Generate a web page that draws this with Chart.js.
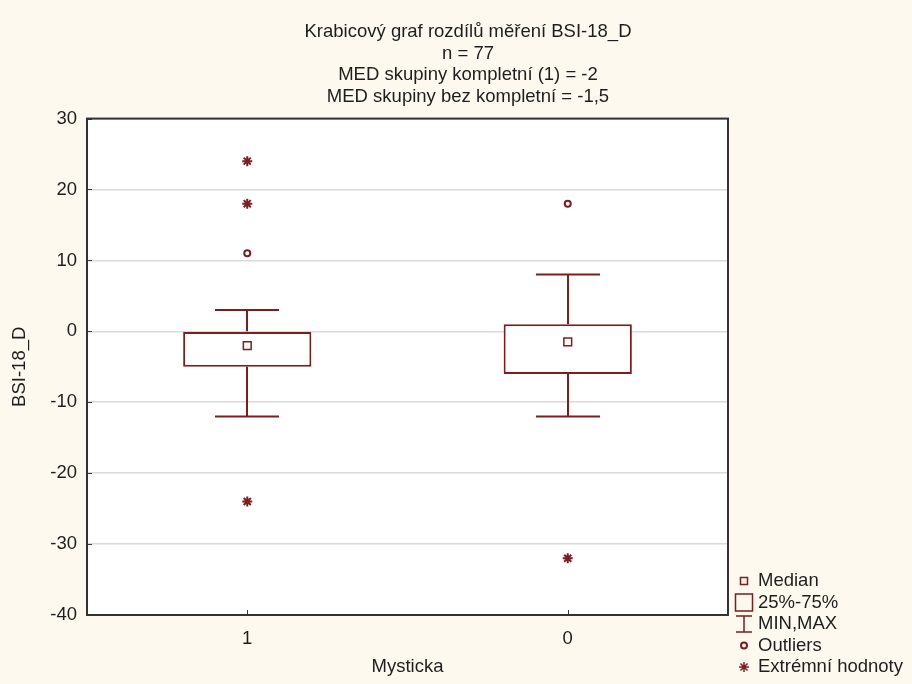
<!DOCTYPE html>
<html>
<head>
<meta charset="utf-8">
<script src="https://cdn.jsdelivr.net/npm/chart.js@4.4.1/dist/chart.umd.min.js"></script>
<style>
    html, body { margin: 0; padding: 0; background: #fdf9ef; }
    #wrap { width: 912px; height: 684px; }
</style>
</head>
<body>
<div id="wrap"><canvas id="boxChart" width="912" height="684"></canvas></div>
<script>
    // data
    var categories = ['1', '0'];
    var q1Values = [-5, -6];
    var q3Values = [0, 1];
    var medianValues = [-2, -1.5];
    var minValues = [-12, -12];
    var maxValues = [3, 8];
    var outlierValues = [[11], [18]];
    var extremeValues = [[24, 18, -24], [-32]];

    var titleLines = [
        'Krabicový graf rozdílů měření BSI-18_D',
        'n = 77',
        'MED skupiny kompletní (1) = -2',
        'MED skupiny bez kompletní = -1,5'
    ];
    var legendLabels = ['Median', '25%-75%', 'MIN,MAX', 'Outliers', 'Extrémní hodnoty'];

    var boxColor = '#7d1e1e';
    var textColor = '#1e1e1e';
    var fontFamily = '"Liberation Sans", Arial, sans-serif';
    var fontSize = 18.5;

    function toPoints(groups) {
        var pts = [];
        groups.forEach(function(vals, i) {
            vals.forEach(function(v) {
                pts.push({ x: categories[i], y: v });
            });
        });
        return pts;
    }

    // plot background + frame + inner tick marks
    var framePlugin = {
        id: 'frame',
        beforeDraw: function(chart) {
            var a = chart.chartArea, ctx = chart.ctx;
            ctx.save();
            ctx.fillStyle = '#ffffff';
            ctx.fillRect(a.left, a.top, a.right - a.left, a.bottom - a.top);
            ctx.restore();
        },
        afterDraw: function(chart) {
            var a = chart.chartArea, ctx = chart.ctx;
            var ys = chart.scales.y, xs = chart.scales.x;
            ctx.save();
            ctx.strokeStyle = '#3a3a3a';
            ctx.lineWidth = 1;
            ys.ticks.forEach(function(t) {
                var py = Math.round(ys.getPixelForValue(t.value)) + 0.5;
                ctx.beginPath();
                ctx.moveTo(a.left, py);
                ctx.lineTo(a.left + 5, py);
                ctx.stroke();
            });
            categories.forEach(function(c, i) {
                var px = Math.round(xs.getPixelForValue(i)) + 0.5;
                ctx.beginPath();
                ctx.moveTo(px, a.bottom);
                ctx.lineTo(px, a.bottom - 5);
                ctx.stroke();
            });
            ctx.strokeStyle = '#333333';
            ctx.lineWidth = 2;
            ctx.strokeRect(a.left, a.top, a.right - a.left, a.bottom - a.top);
            ctx.restore();
        }
    };

    // whiskers from box edge to min / max with caps
    var whiskerPlugin = {
        id: 'whiskers',
        beforeDatasetsDraw: function(chart) {
            var ctx = chart.ctx, xs = chart.scales.x, ys = chart.scales.y;
            var capHalf = 32;
            ctx.save();
            ctx.strokeStyle = boxColor;
            ctx.lineWidth = 2;
            categories.forEach(function(c, i) {
                var px = Math.round(xs.getPixelForValue(i));
                var yMax = ys.getPixelForValue(maxValues[i]);
                var yMin = ys.getPixelForValue(minValues[i]);
                ctx.beginPath();
                ctx.moveTo(px, ys.getPixelForValue(q3Values[i]));
                ctx.lineTo(px, yMax);
                ctx.moveTo(px, ys.getPixelForValue(q1Values[i]));
                ctx.lineTo(px, yMin);
                ctx.moveTo(px - capHalf, yMax);
                ctx.lineTo(px + capHalf, yMax);
                ctx.moveTo(px - capHalf, yMin);
                ctx.lineTo(px + capHalf, yMin);
                ctx.stroke();
            });
            ctx.restore();
        }
    };

    // legend in the bottom right corner, outside the plot
    var legendPlugin = {
        id: 'sideLegend',
        afterDraw: function(chart) {
            var ctx = chart.ctx;
            var cx = chart.chartArea.right + 16;
            var textX = chart.chartArea.right + 30;
            var y0 = chart.height - 103;
            var step = 21.5;
            ctx.save();
            ctx.strokeStyle = boxColor;
            legendLabels.forEach(function(label, i) {
                var y = y0 + i * step;
                ctx.lineWidth = 1.5;
                ctx.beginPath();
                if (i === 0) {
                    ctx.rect(cx - 3.5, y - 3.5, 7, 7);
                    ctx.stroke();
                } else if (i === 1) {
                    ctx.rect(cx - 8.5, y - 8.5, 17, 17);
                    ctx.stroke();
                } else if (i === 2) {
                    ctx.moveTo(cx - 8, y - 8); ctx.lineTo(cx + 8, y - 8);
                    ctx.moveTo(cx, y - 8); ctx.lineTo(cx, y + 8);
                    ctx.moveTo(cx - 8, y + 8); ctx.lineTo(cx + 8, y + 8);
                    ctx.stroke();
                } else if (i === 3) {
                    ctx.lineWidth = 2;
                    ctx.arc(cx, y, 3, 0, Math.PI * 2);
                    ctx.stroke();
                } else {
                    Chart.helpers.drawPoint(ctx, { pointStyle: 'star', radius: 5, borderWidth: 2 }, cx, y);
                }
                ctx.fillStyle = textColor;
                ctx.font = fontSize + 'px ' + fontFamily;
                ctx.textBaseline = 'middle';
                ctx.textAlign = 'left';
                ctx.fillText(label, textX, y);
            });
            ctx.restore();
        }
    };

    new Chart(document.getElementById('boxChart'), {
        type: 'bar',
        data: {
            labels: categories,
            datasets: [
                {
                    label: 'Median',
                    type: 'line',
                    data: medianValues,
                    showLine: false,
                    pointStyle: 'rect',
                    pointRadius: 5.5,
                    pointBorderWidth: 1.5,
                    pointBorderColor: boxColor,
                    pointBackgroundColor: '#ffffff',
                    order: 1
                },
                {
                    label: 'Outliers',
                    type: 'line',
                    data: toPoints(outlierValues),
                    showLine: false,
                    pointStyle: 'circle',
                    pointRadius: 3,
                    pointBorderWidth: 2,
                    pointBorderColor: boxColor,
                    pointBackgroundColor: '#ffffff',
                    order: 1
                },
                {
                    label: 'Extrémní hodnoty',
                    type: 'line',
                    data: toPoints(extremeValues),
                    showLine: false,
                    pointStyle: 'star',
                    pointRadius: 5,
                    pointBorderWidth: 2,
                    pointBorderColor: boxColor,
                    order: 1
                },
                {
                    label: '25%-75%',
                    data: q1Values.map(function(v, i) { return [v, q3Values[i]]; }),
                    backgroundColor: '#ffffff',
                    borderColor: boxColor,
                    borderWidth: 2,
                    borderSkipped: false,
                    barPercentage: 0.4,
                    categoryPercentage: 1,
                    order: 2
                }
            ]
        },
        options: {
            responsive: false,
            animation: false,
            events: [],
            layout: {
                padding: { left: 24, right: 0, top: 0, bottom: 0 }
            },
            plugins: {
                legend: { display: false },
                tooltip: { enabled: false },
                title: {
                    display: true,
                    text: titleLines,
                    color: textColor,
                    font: { family: fontFamily, size: fontSize, weight: 'normal', lineHeight: 1.17 },
                    padding: { top: 21, bottom: 11 }
                }
            },
            scales: {
                x: {
                    grid: { display: false, drawTicks: false },
                    border: { display: false },
                    ticks: {
                        color: textColor,
                        padding: 13,
                        font: { family: fontFamily, size: fontSize }
                    },
                    title: {
                        display: true,
                        text: 'Mysticka',
                        color: textColor,
                        font: { family: fontFamily, size: fontSize },
                        padding: { top: 4, bottom: 6 }
                    },
                    afterFit: function(scale) { scale.height = 69; }
                },
                y: {
                    min: -40,
                    max: 30,
                    grid: {
                        color: '#dadada',
                        lineWidth: 1.5,
                        drawTicks: true,
                        tickLength: 7,
                        tickColor: 'rgba(0,0,0,0)'
                    },
                    border: { display: false },
                    ticks: {
                        stepSize: 10,
                        color: textColor,
                        padding: 3,
                        font: { family: fontFamily, size: fontSize }
                    },
                    title: {
                        display: true,
                        text: 'BSI-18_D',
                        color: textColor,
                        font: { family: fontFamily, size: fontSize },
                        padding: { top: -15, bottom: 0 }
                    },
                    afterFit: function(scale) { scale.width = 63; }
                },
                // empty right-hand axis that keeps room for the legend
                yLegend: {
                    position: 'right',
                    min: -40,
                    max: 30,
                    grid: { display: false, drawTicks: false },
                    border: { display: false },
                    ticks: { display: false },
                    afterFit: function(scale) { scale.width = 184; }
                }
            }
        },
        plugins: [framePlugin, whiskerPlugin, legendPlugin]
    });
</script>
</body>
</html>
